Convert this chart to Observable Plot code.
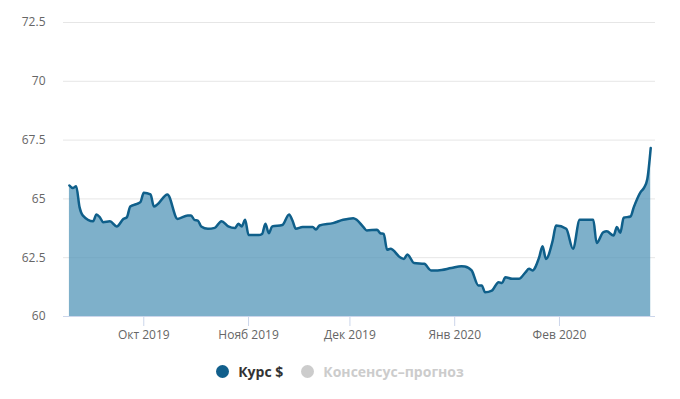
<!DOCTYPE html>
<html>
<head>
<meta charset="utf-8">
<script src="https://cdn.jsdelivr.net/npm/d3@7"></script>
<script src="https://cdn.jsdelivr.net/npm/@observablehq/plot@0.6"></script>
<style>
  body { margin: 0; background: #fff; font-family: "Open Sans", sans-serif; }
  #chart svg { display: block; }
  .legend { display: flex; justify-content: center; align-items: center; height: 42px; font-size: 14px; font-weight: bold; }
  .legend .item { display: flex; align-items: center; margin: 0 9px; }
  .legend .dot { width: 13px; height: 13px; border-radius: 50%; margin-right: 9px; }
</style>
</head>
<body>
<div id="chart"></div>
<div class="legend">
  <div class="item"><span class="dot" style="background:#115f8c"></span><span style="color:#333">Курс $</span></div>
  <div class="item"><span class="dot" style="background:#cccccc"></span><span style="color:#cccccc">Консенсус–прогноз</span></div>
</div>
<script>
const dates = [
  "2019-09-09","2019-09-10","2019-09-11","2019-09-12","2019-09-13","2019-09-16","2019-09-17","2019-09-18","2019-09-19","2019-09-21",
  "2019-09-23","2019-09-25","2019-09-26","2019-09-27","2019-09-29","2019-09-30","2019-10-01","2019-10-03","2019-10-04","2019-10-05",
  "2019-10-08","2019-10-11","2019-10-14","2019-10-15","2019-10-16","2019-10-17","2019-10-18","2019-10-20","2019-10-22","2019-10-24",
  "2019-10-26","2019-10-28","2019-10-29","2019-10-30","2019-10-31","2019-11-01","2019-11-04","2019-11-05","2019-11-06","2019-11-07",
  "2019-11-08","2019-11-11","2019-11-13","2019-11-14","2019-11-15","2019-11-17","2019-11-20","2019-11-21","2019-11-22","2019-11-26",
  "2019-11-29","2019-12-02","2019-12-03","2019-12-05","2019-12-06","2019-12-09","2019-12-10","2019-12-11","2019-12-12","2019-12-13",
  "2019-12-16","2019-12-17","2019-12-18","2019-12-20","2019-12-23","2019-12-25","2019-12-27","2019-12-31","2020-01-03","2020-01-04",
  "2020-01-06","2020-01-08","2020-01-09","2020-01-10","2020-01-12","2020-01-14","2020-01-15","2020-01-16","2020-01-18","2020-01-20",
  "2020-01-22","2020-01-23","2020-01-24","2020-01-26","2020-01-27","2020-01-28","2020-01-30","2020-01-31","2020-02-03","2020-02-05",
  "2020-02-07","2020-02-11","2020-02-12","2020-02-14","2020-02-15","2020-02-17","2020-02-18","2020-02-19","2020-02-20","2020-02-22",
  "2020-02-23","2020-02-25","2020-02-26","2020-02-27","2020-02-28"
];
const rates = [
  65.57,65.46,65.54,64.65,64.29,64.05,64.34,64.22,64.01,64.05,
  63.83,64.15,64.22,64.68,64.79,64.86,65.26,65.19,64.68,64.76,
  65.19,64.15,64.29,64.29,64.11,64.08,63.83,63.73,63.77,64.05,
  63.83,63.76,63.94,63.83,64.11,63.47,63.46,63.51,63.94,63.54,
  63.83,63.89,64.34,64.08,63.73,63.80,63.80,63.70,63.87,63.97,
  64.11,64.18,64.11,63.80,63.66,63.69,63.54,63.51,62.84,62.88,
  62.50,62.45,62.64,62.27,62.24,61.96,61.96,62.06,62.14,62.13,
  61.96,61.32,61.32,61.03,61.10,61.46,61.42,61.67,61.60,61.60,
  61.89,62.03,61.96,62.52,62.99,62.45,63.23,63.87,63.73,62.88,
  64.11,64.11,63.12,63.59,63.62,63.44,63.80,63.56,64.20,64.25,
  64.65,65.29,65.47,65.85,67.16
];
const monthTicks = ["2019-10-01","2019-11-01","2019-12-01","2020-01-01","2020-02-01"];
const monthLabels = ["Окт 2019","Нояб 2019","Дек 2019","Янв 2020","Фев 2020"];
const yTicks = [60, 62.5, 65, 67.5, 70, 72.5];

const data = dates.map((d, i) => ({date: new Date(d), rate: rates[i]}));
const tickDates = monthTicks.map(d => new Date(d));
const labelOf = new Map(tickDates.map((d, i) => [+d, monthLabels[i]]));

const chart = Plot.plot({
  width: 680,
  height: 350,
  marginTop: 22,
  marginBottom: 34,
  marginLeft: 63,
  marginRight: 25,
  style: {fontFamily: "Open Sans, sans-serif", fontSize: "12px", color: "#666"},
  x: {type: "utc", domain: [new Date("2019-09-07T06:00Z"), new Date("2020-02-29T10:00Z")]},
  y: {domain: [60, 72.5]},
  marks: [
    Plot.ruleY(yTicks.slice(1), {stroke: "#e6e6e6", strokeWidth: 1}),
    Plot.areaY(data, {x: "date", y1: 60, y2: "rate", curve: "monotone-x", fill: "#5396b8", fillOpacity: 0.75}),
    Plot.lineY(data, {x: "date", y: "rate", curve: "monotone-x", stroke: "#0f5f8a", strokeWidth: 2.5}),
    Plot.ruleY([60], {stroke: "#ccd6eb", strokeWidth: 1}),
    Plot.axisY({ticks: yTicks, tickSize: 0, tickPadding: 18, tickFormat: d => String(d), label: null, fill: "#666", fontSize: 12}),
    Plot.axisX({ticks: tickDates, tickSize: 10, tickPadding: 4, tickFormat: d => labelOf.get(+d), label: null, stroke: "#ccd6eb", strokeOpacity: 1, fill: "#666", fontSize: 12})
  ]
});
document.getElementById("chart").appendChild(chart);
</script>
</body>
</html>
